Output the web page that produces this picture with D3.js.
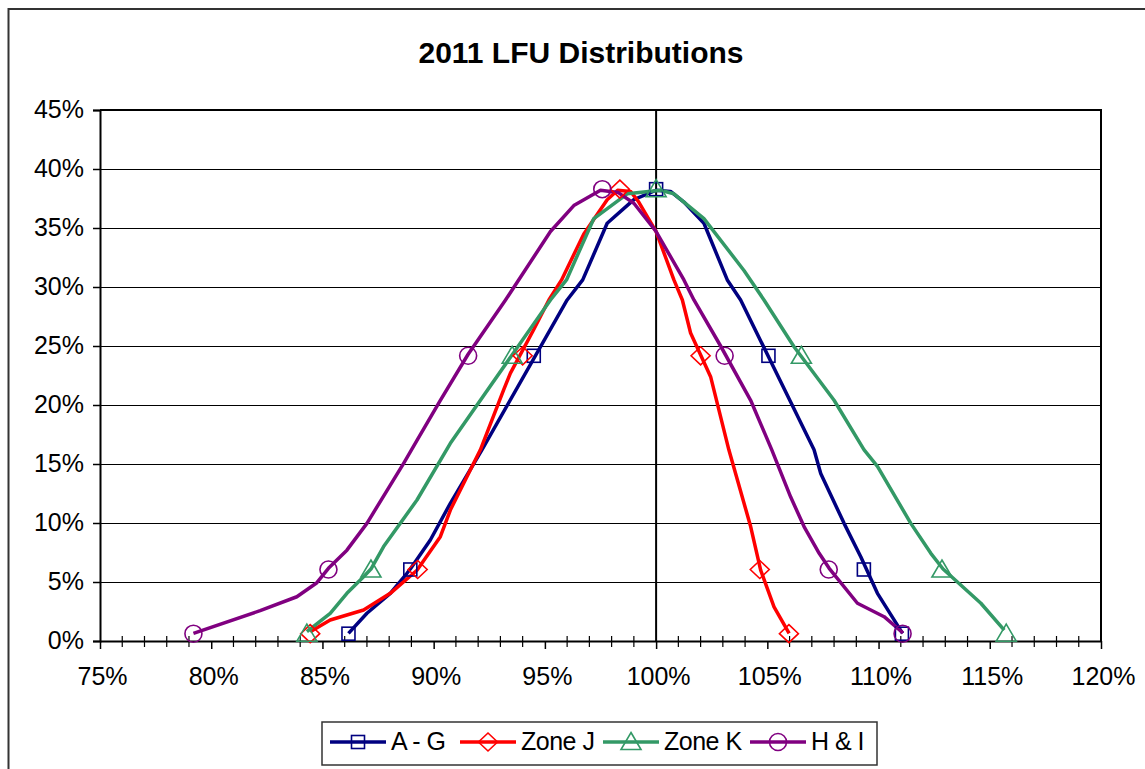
<!DOCTYPE html>
<html><head><meta charset="utf-8">
<script src="https://cdn.jsdelivr.net/npm/d3@7"></script>
<style>body{margin:0;background:#fff}svg{display:block}text{font-family:Arial,"Liberation Sans",sans-serif}</style>
</head><body><svg id="c" width="1145" height="769"></svg>
<script>
// ---- data ----
const seriesNames = ["A - G", "Zone J", "Zone K", "H & I"];
const markerY = [0.62, 6.06, 24.17, 38.29, 24.17, 6.06, 0.62];
const agMarkX = [86.17, 88.95, 94.5, 100.0, 105.05, 109.34, 111.05];
const jMarkX = [84.45, 89.28, 94.0, 98.37, 102.0, 104.66, 105.97];
const kMarkX = [84.3, 87.18, 93.53, 100.0, 106.53, 112.85, 115.74];
const hiMarkX = [79.2, 85.27, 91.55, 97.58, 103.08, 107.76, 111.08];

const agLineX = [86.17, 87.0, 88.05, 88.8, 88.95, 89.85, 90.75, 92.17, 96.0, 96.7, 97.8, 99.0, 100.0, 100.65, 101.25, 102.15, 103.2, 103.8, 107.1, 107.4, 108.45, 109.2, 109.95, 111.08];
const agLineY = [0.65, 2.35, 4.04, 5.74, 6.1, 8.56, 11.67, 16.2, 28.9, 30.6, 35.4, 37.4, 38.2, 38.1, 37.2, 35.4, 30.6, 28.9, 16.2, 14.2, 9.97, 7.14, 4.04, 0.65];

const jLineX = [84.45, 85.35, 86.85, 88.05, 89.25, 90.3, 90.75, 92.1, 93.15, 93.45, 94.5, 95.18, 95.75, 96.75, 97.8, 98.27, 98.85, 99.22, 100.0, 100.8, 101.18, 101.55, 102.45, 103.27, 104.25, 104.7, 105.3, 105.98];
const jLineY = [0.79, 1.78, 2.63, 4.04, 6.0, 8.84, 11.1, 16.2, 21.3, 22.7, 26.4, 28.9, 30.6, 34.5, 37.4, 38.2, 38.1, 37.2, 34.7, 30.6, 28.9, 26.1, 22.4, 16.2, 9.7, 6.0, 2.9, 0.65];

const kLineX = [84.3, 85.35, 86.1, 86.85, 87.18, 87.75, 89.25, 90.75, 95.25, 95.97, 97.2, 98.7, 100.2, 100.8, 102.15, 103.95, 104.85, 106.2, 108.0, 109.35, 109.95, 111.45, 112.35, 112.9, 114.6, 115.65];
const kLineY = [0.79, 2.35, 4.04, 5.45, 6.1, 8.0, 11.95, 16.75, 28.9, 30.6, 35.8, 37.9, 38.2, 37.9, 35.8, 31.4, 28.9, 24.94, 20.4, 16.2, 14.8, 9.97, 7.43, 6.1, 3.2, 0.93];

const hiLineX = [79.2, 82.2, 83.85, 84.75, 85.27, 86.1, 87.0, 88.65, 89.25, 90.3, 91.55, 93.23, 95.25, 96.3, 97.5, 98.3, 99.0, 100.0, 101.25, 101.7, 102.9, 104.25, 105.2, 106.05, 106.65, 107.33, 107.78, 109.05, 110.25, 111.1];
const hiLineY = [0.65, 2.57, 3.75, 4.94, 6.16, 7.7, 9.97, 15.06, 17.0, 20.4, 24.3, 28.9, 34.7, 36.9, 38.2, 38.0, 37.1, 34.7, 30.6, 28.9, 25.0, 20.4, 16.2, 12.2, 9.7, 7.43, 6.16, 3.2, 2.06, 0.68];

const xTicks = [75, 80, 85, 90, 95, 100, 105, 110, 115, 120];
const yTicks = [0, 5, 10, 15, 20, 25, 30, 35, 40, 45];
const colors = ["#000080", "#FF0000", "#339966", "#800080"];
const shapes = ["square", "diamond", "triangle", "circle"];

// ---- build ----
const series = [
  {name: seriesNames[0], lx: agLineX, ly: agLineY, mx: agMarkX},
  {name: seriesNames[1], lx: jLineX, ly: jLineY, mx: jMarkX},
  {name: seriesNames[2], lx: kLineX, ly: kLineY, mx: kMarkX},
  {name: seriesNames[3], lx: hiLineX, ly: hiLineY, mx: hiMarkX}
];

const svg = d3.select("#c");
const L = 100, R = 1101, T = 110, B = 641;
const x = d3.scaleLinear().domain([75, 120]).range([L, R]);
const y = d3.scaleLinear().domain([0, 45]).range([B, T]);

// outer border
svg.append("rect").attr("x", 8.5).attr("y", 9).attr("width", 1160).attr("height", 800)
  .attr("fill", "none").attr("stroke", "#333").attr("stroke-width", 2);

// title
svg.append("text").attr("x", 581).attr("y", 63).attr("text-anchor", "middle")
  .attr("font-size", 30).attr("font-weight", "bold")
  .text("2011 LFU Distributions");

// gridlines
svg.append("g").selectAll("line").data(yTicks.filter(v => v > 0 && v < 45)).join("line")
  .attr("x1", L).attr("x2", R).attr("y1", d => y(d)).attr("y2", d => y(d))
  .attr("stroke", "#000").attr("stroke-width", 1).attr("shape-rendering", "crispEdges");

// plot border top/right
svg.append("path").attr("d", `M${L},${T}H${R}V${B}`).attr("fill", "none")
  .attr("stroke", "#000").attr("stroke-width", 2);

// y axis
const yAxis = d3.axisLeft(y).tickValues(yTicks).tickSize(7).tickFormat(d => d + "%");
const gy = svg.append("g").attr("transform", `translate(${L},0)`).call(yAxis);
gy.select(".domain").attr("stroke-width", 2);
gy.selectAll(".tick line").attr("stroke-width", 1.5);
gy.selectAll("text").attr("font-size", 25).attr("font-family", "Arial, 'Liberation Sans', sans-serif")
  .attr("x", -16).attr("dy", "0.3em").attr("fill", "#000");

// x axis minor ticks
const minor = d3.range(75, 121).filter(v => v % 5 !== 0);
svg.append("g").selectAll("line").data(minor).join("line")
  .attr("x1", d => x(d)).attr("x2", d => x(d)).attr("y1", B - 5).attr("y2", B + 6)
  .attr("stroke", "#000").attr("stroke-width", 1.2);
const xAxis = d3.axisBottom(x).tickValues(xTicks).tickSize(8).tickSizeOuter(0).tickFormat(d => d + "%");
const gx = svg.append("g").attr("transform", `translate(0,${B})`).call(xAxis);
gx.select(".domain").attr("stroke-width", 2);
gx.selectAll(".tick line").attr("stroke-width", 1.5);
gx.selectAll("text").attr("font-size", 25).attr("font-family", "Arial, 'Liberation Sans', sans-serif")
  .attr("y", 26).attr("dy", "0.71em").attr("dx", 2).attr("fill", "#000");

// 100% vertical line
svg.append("line").attr("x1", x(100)).attr("x2", x(100)).attr("y1", T).attr("y2", B)
  .attr("stroke", "#000").attr("stroke-width", 2);

// marker drawer
function marker(g, shape, color, cx, cy) {
  if (shape === "square") {
    g.append("rect").attr("x", cx - 6.5).attr("y", cy - 6.5).attr("width", 13).attr("height", 13)
      .attr("fill", "none").attr("stroke", color).attr("stroke-width", 1.6);
  } else if (shape === "diamond") {
    g.append("path").attr("d", `M${cx},${cy - 9}L${cx + 9.5},${cy}L${cx},${cy + 9}L${cx - 9.5},${cy}Z`)
      .attr("fill", "none").attr("stroke", color).attr("stroke-width", 1.6);
  } else if (shape === "triangle") {
    g.append("path").attr("d", `M${cx},${cy - 9.5}L${cx + 10},${cy + 7.5}L${cx - 10},${cy + 7.5}Z`)
      .attr("fill", "none").attr("stroke", color).attr("stroke-width", 1.6);
  } else {
    g.append("circle").attr("cx", cx).attr("cy", cy).attr("r", 8.5)
      .attr("fill", "none").attr("stroke", color).attr("stroke-width", 1.6);
  }
}

const line = d3.line().x(d => x(d[0])).y(d => y(d[1]));
series.forEach((s, i) => {
  const pts = s.lx.map((v, j) => [v, s.ly[j]]);
  svg.append("path").datum(pts).attr("d", line).attr("fill", "none")
    .attr("stroke", colors[i]).attr("stroke-width", 3.5).attr("stroke-linejoin", "round");
});
series.forEach((s, i) => {
  const g = svg.append("g");
  s.mx.forEach((v, j) => marker(g, shapes[i], colors[i], x(v), y(markerY[j])));
});

// legend
svg.append("rect").attr("x", 322).attr("y", 722).attr("width", 555).attr("height", 43)
  .attr("fill", "#fff").attr("stroke", "#333").attr("stroke-width", 1.5);
const legX = [330, 460, 603, 750];
series.forEach((s, i) => {
  const g = svg.append("g");
  const lx = legX[i];
  g.append("line").attr("x1", lx).attr("x2", lx + 56).attr("y1", 742).attr("y2", 742)
    .attr("stroke", colors[i]).attr("stroke-width", 3.5);
  marker(g, shapes[i], colors[i], lx + 28, 742);
  g.append("text").attr("x", lx + 61).attr("y", 750).attr("font-size", 25)
    .attr("letter-spacing", -0.5).text(s.name);
});
</script></body></html>
